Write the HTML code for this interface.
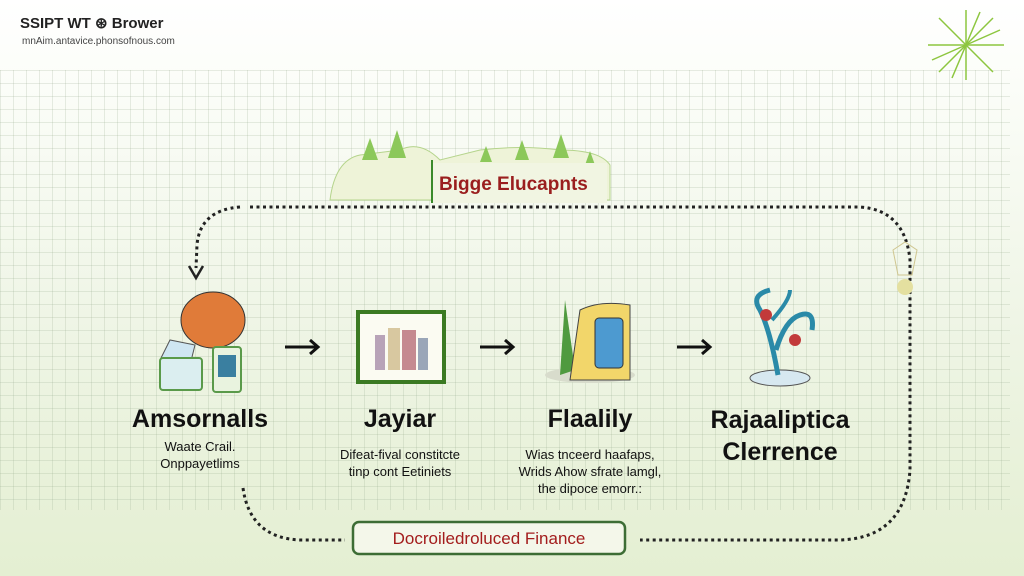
<!DOCTYPE html>
<html><head><style>
body{margin:0;width:1024px;height:576px;overflow:hidden;font-family:"Liberation Sans",sans-serif;}
#bg{position:absolute;inset:0;background:linear-gradient(#fff 0%,#fbfdf8 15%,#eff5e6 55%,#e4efd2 100%);}
#grid{position:absolute;left:0;top:70px;width:1010px;height:440px;
background-image:linear-gradient(rgba(150,170,140,.22) 1px,transparent 1px),linear-gradient(90deg,rgba(150,170,140,.22) 1px,transparent 1px);background-size:13px 13px;}
.t{position:absolute;text-align:center;color:#111;}
.h{font-size:25px;font-weight:bold;}
.s{font-size:13px;line-height:17px;}
</style></head><body>
<div id="bg"></div><div id="grid"></div>
<div style="position:absolute;left:20px;top:14px;font-size:15px;font-weight:bold;color:#222">SSIPT WT ⊛ Brower</div>
<div style="position:absolute;left:22px;top:36px;font-size:10px;color:#444">mnAim.antavice.phonsofnous.com</div>
<svg width="1024" height="576" style="position:absolute;left:0;top:0">
<g stroke="#8dc63f" stroke-width="1.5">
<line x1="966" y1="45" x2="1004" y2="45"/><line x1="966" y1="45" x2="928" y2="45"/>
<line x1="966" y1="45" x2="966" y2="10"/><line x1="966" y1="45" x2="966" y2="80"/>
<line x1="966" y1="45" x2="993" y2="18"/><line x1="966" y1="45" x2="939" y2="72"/>
<line x1="966" y1="45" x2="939" y2="18"/><line x1="966" y1="45" x2="993" y2="72"/>
<line x1="966" y1="45" x2="1000" y2="30"/><line x1="966" y1="45" x2="932" y2="60"/>
<line x1="966" y1="45" x2="980" y2="12"/><line x1="966" y1="45" x2="952" y2="78"/>
</g>
<path d="M330 200 Q335 160 360 155 L400 150 Q420 140 440 160 L480 150 Q520 145 560 150 Q600 150 610 165 L610 200 Z" fill="#eef3d8" stroke="#b5d48c"/>
<g fill="#8cc85a">
<path d="M362 160 l8 -22 l8 22z"/><path d="M388 158 l9 -28 l9 28z"/><path d="M480 162 l6 -16 l6 16z"/>
<path d="M515 160 l7 -20 l7 20z"/><path d="M553 158 l8 -24 l8 24z"/><path d="M585 165 l5 -14 l5 14z"/>
</g>
<rect x="432" y="163" width="175" height="40" fill="#f1f5e2"/>
<line x1="432" y1="160" x2="432" y2="203" stroke="#3a8a2a" stroke-width="2"/>
<text x="439" y="190" font-size="19" font-weight="bold" fill="#9a1e1e">Bigge Elucapnts</text>
<g fill="none" stroke="#222" stroke-width="3" stroke-dasharray="3 3.5">
<path d="M240 207 Q200 210 197 245 L196 268"/>
<path d="M250 207 L860 207 Q905 210 910 260 L910 470 Q905 538 840 540 L640 540"/>
<path d="M243 488 Q250 538 300 540 L345 540"/>
</g>
<path d="M189 266 L196 278 L203 266" fill="none" stroke="#222" stroke-width="2.5"/>
<circle cx="905" cy="287" r="8" fill="#e4e0a0"/><path d="M893 250 l12 -8 l12 8 l-5 25 h-14z" fill="none" stroke="#cfc690"/>
<rect x="353" y="522" width="272" height="32" rx="6" fill="#f4f7ea" stroke="#3d6d35" stroke-width="2.5"/>
<text x="489" y="544" font-size="17" text-anchor="middle" fill="#a31d1d">Docroiledroluced Finance</text>
<g stroke="#111" stroke-width="3" fill="none">
<path d="M285 347 H318 M310 340 L318 347 L310 354"/>
<path d="M480 347 H513 M505 340 L513 347 L505 354"/>
<path d="M677 347 H710 M702 340 L710 347 L702 354"/>
</g>
<ellipse cx="213" cy="320" rx="32" ry="28" fill="#e07b39" stroke="#333"/>
<path d="M160 360 L170 340 L195 345 L190 365" fill="#cfe6f2" stroke="#555"/>
<rect x="160" y="358" width="42" height="32" rx="3" fill="#dbeef0" stroke="#5a9a4a" stroke-width="2"/>
<rect x="213" y="347" width="28" height="45" rx="3" fill="#e9f3df" stroke="#5a9a4a" stroke-width="2"/>
<rect x="218" y="355" width="18" height="22" fill="#3a7fa0"/>
<rect x="358" y="312" width="86" height="70" fill="#fbfbf2" stroke="#3b7a22" stroke-width="4"/>
<rect x="375" y="335" width="10" height="35" fill="#b8a3b8"/><rect x="388" y="328" width="12" height="42" fill="#d8c8a0"/><rect x="402" y="330" width="14" height="40" fill="#c58a90"/><rect x="418" y="338" width="10" height="32" fill="#9aa6b8"/>
<ellipse cx="590" cy="375" rx="45" ry="8" fill="#d8dccc"/>
<path d="M560 375 L565 300 L575 370z" fill="#4f9a3f"/>
<path d="M570 380 L580 310 Q600 300 630 305 L630 380z" fill="#f2d66a" stroke="#444"/>
<rect x="595" y="318" width="28" height="50" rx="4" fill="#4d9ad0" stroke="#333"/>
<ellipse cx="780" cy="378" rx="30" ry="8" fill="#d7e8f0" stroke="#555"/>
<path d="M778 375 Q770 330 760 310 Q750 295 770 290" fill="none" stroke="#2a8aa8" stroke-width="5"/>
<path d="M776 350 Q785 320 800 315 Q815 310 812 330" fill="none" stroke="#2a8aa8" stroke-width="5"/>
<path d="M772 320 Q790 300 790 290" fill="none" stroke="#2a8aa8" stroke-width="4"/>
<circle cx="766" cy="315" r="6" fill="#c23a3a"/><circle cx="795" cy="340" r="6" fill="#c23a3a"/>
</svg>
<div class="t h" style="left:110px;top:405px;width:180px">Amsornalls</div>
<div class="t s" style="left:110px;top:438px;width:180px">Waate Crail.<br>Onppayetlims</div>
<div class="t h" style="left:320px;top:405px;width:160px">Jayiar</div>
<div class="t s" style="left:310px;top:446px;width:180px">Difeat-fival constitcte<br>tinp cont Eetiniets</div>
<div class="t h" style="left:510px;top:405px;width:160px">Flaalily</div>
<div class="t s" style="left:500px;top:446px;width:180px">Wias tnceerd haafaps,<br>Wrids Ahow sfrate lamgl,<br>the dipoce emorr.:</div>
<div class="t h" style="left:690px;top:404px;width:180px;line-height:32px">Rajaaliptica<br>Clerrence</div>
</body></html>
